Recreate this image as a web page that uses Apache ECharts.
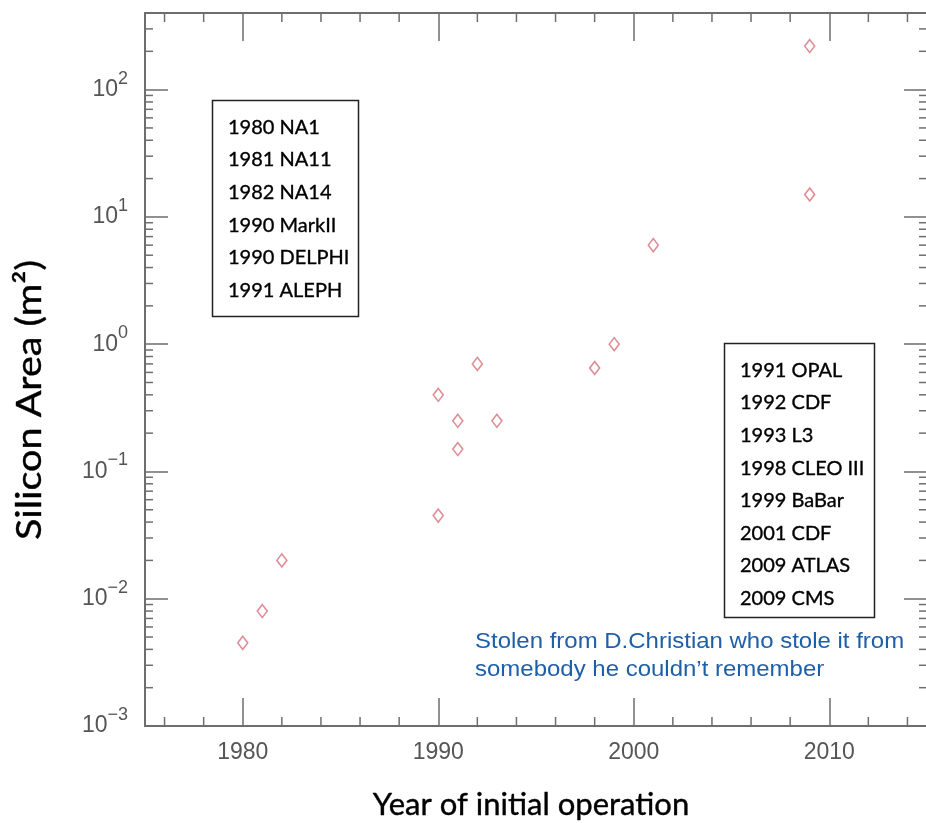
<!DOCTYPE html>
<html><head><meta charset="utf-8">
<script src="https://cdn.jsdelivr.net/npm/echarts@6/dist/echarts.min.js"></script>
<style>html,body{margin:0;padding:0;background:#fff}#c{width:926px;height:823px}</style>
</head><body><div id="c"></div><script>
// ---- data ----
const years = [1980, 1981, 1982, 1990, 1990, 1991, 1991, 1992, 1993, 1998, 1999, 2001, 2009, 2009];
const areas = [0.0045, 0.008, 0.02, 0.4, 0.045, 0.25, 0.15, 0.7, 0.25, 0.65, 1.0, 6.0, 15, 220];
const leftBoxLabels = ['1980 NA1', '1981 NA11', '1982 NA14', '1990 MarkII', '1990 DELPHI', '1991 ALEPH'];
const rightBoxLabels = ['1991 OPAL', '1992 CDF', '1993 L3', '1998 CLEO III', '1999 BaBar', '2001 CDF', '2009 ATLAS', '2009 CMS'];
const noteLines = ['Stolen from D.Christian who stole it from', 'somebody he couldn\u2019t remember'];
const xTitle = 'Year of initial operation';
const yTitle = 'Silicon Area (m\u00B2)';
const xMin = 1975, xMax = 2015, yMin = 0.001, yMax = 400;

// minor tick positions
const xMinorTicks = [];
for (let yr = 1976; yr < xMax; yr += 2) if (yr % 10 !== 0) xMinorTicks.push(yr);
const yMinorTicks = [];
for (let e = -3; e <= 2; e++) for (let k = 2; k <= 9; k++) { const v = k * Math.pow(10, e); if (v < yMax) yMinorTicks.push(v); }

const axisColor = '#6e6e6e';
const labelColor = '#555';
const markColor = '#d6727a';

const chart = echarts.init(document.getElementById('c'));
const yLabelFmt = v => {
  const e = Math.log10(v), r = Math.round(e);
  if (Math.abs(e - r) > 1e-6) return '';
  return '{b|10}{s|' + (r < 0 ? '\u2212' + (-r) : r) + '}';
};
const boxTextStyle = { font: '20px Lato', lineHeight: 32.6, fill: '#000', stroke: '#000', lineWidth: 0.35,
  align: 'left', verticalAlign: 'top' };
chart.setOption({
  animation: false,
  backgroundColor: '#fff',
  grid: { left: 145, right: -1, top: 13, bottom: 97, containLabel: false, outerBoundsMode: 'none' },
  xAxis: [{
    type: 'value', min: xMin, max: xMax, splitNumber: 4, position: 'bottom',
    axisLine: { lineStyle: { color: axisColor, width: 2 } },
    axisTick: { inside: true, length: 28, lineStyle: { color: axisColor, width: 1.5 } },
    splitLine: { show: false },
    axisLabel: { margin: 15, color: labelColor, fontSize: 23, fontFamily: 'Liberation Sans',
      formatter: v => (Math.round(v) % 10 === 0 ? String(Math.round(v)) : '') }
  }, {
    type: 'value', min: xMin, max: xMax, splitNumber: 4, position: 'top',
    axisLine: { lineStyle: { color: axisColor, width: 2 } },
    axisTick: { inside: true, length: 28, lineStyle: { color: axisColor, width: 1.5 } },
    splitLine: { show: false }, axisLabel: { show: false }
  }],
  yAxis: [{
    type: 'log', logBase: 10, min: yMin, max: yMax, position: 'left',
    axisLine: { lineStyle: { color: axisColor, width: 2 } },
    axisTick: { inside: true, length: 23, lineStyle: { color: axisColor, width: 1.5 } },
    splitLine: { show: false },
    axisLabel: { margin: 17, formatter: yLabelFmt,
      rich: {
        b: { fontSize: 23, lineHeight: 40, fontFamily: 'Liberation Sans', color: labelColor },
        s: { fontSize: 18, lineHeight: 16, verticalAlign: 'top', fontFamily: 'Liberation Sans', color: labelColor }
      } }
  }, {
    type: 'log', logBase: 10, min: yMin, max: yMax, position: 'right',
    axisLine: { lineStyle: { color: axisColor, width: 2 } },
    axisTick: { inside: true, length: 23, lineStyle: { color: axisColor, width: 1.5 } },
    splitLine: { show: false }, axisLabel: { show: false }
  }],
  series: [{
    type: 'custom', silent: true, z: 3, xAxisIndex: 0, yAxisIndex: 0,
    data: yMinorTicks.map(v => [xMin, v]), encode: { x: 0, y: 1 },
    renderItem: (params, api) => {
      const cs = params.coordSys;
      const y = api.coord([xMin, api.value(1)])[1];
      const st = { stroke: axisColor, lineWidth: 1.5 };
      return { type: 'group', children: [
        { type: 'line', shape: { x1: cs.x, y1: y, x2: cs.x + 8, y2: y }, style: st },
        { type: 'line', shape: { x1: cs.x + cs.width, y1: y, x2: cs.x + cs.width - 8, y2: y }, style: st }
      ] };
    }
  }, {
    type: 'custom', silent: true, z: 3, xAxisIndex: 0, yAxisIndex: 0,
    data: xMinorTicks.map(v => [v, yMin]), encode: { x: 0, y: 1 },
    renderItem: (params, api) => {
      const cs = params.coordSys;
      const x = api.coord([api.value(0), yMin])[0];
      const st = { stroke: axisColor, lineWidth: 1.5 };
      return { type: 'group', children: [
        { type: 'line', shape: { x1: x, y1: cs.y + cs.height, x2: x, y2: cs.y + cs.height - 9 }, style: st },
        { type: 'line', shape: { x1: x, y1: cs.y, x2: x, y2: cs.y + 9 }, style: st }
      ] };
    }
  }, {
    type: 'scatter', xAxisIndex: 0, yAxisIndex: 0, z: 4,
    symbol: 'diamond', symbolSize: [10, 13],
    itemStyle: { color: '#fff', borderColor: markColor, borderWidth: 1.6 },
    data: years.map((y, i) => [y, areas[i]])
  }],
  graphic: [
    { type: 'rect', z: 10, shape: { x: 212.5, y: 100.5, width: 146, height: 216 },
      style: { fill: '#fff', stroke: '#222', lineWidth: 1.5 } },
    { type: 'text', z: 11, x: 228, y: 111, style: Object.assign({ text: leftBoxLabels.join('\n') }, boxTextStyle) },
    { type: 'rect', z: 10, shape: { x: 724.5, y: 343.5, width: 150, height: 274 },
      style: { fill: '#fff', stroke: '#222', lineWidth: 1.5 } },
    { type: 'text', z: 11, x: 740, y: 354, style: Object.assign({ text: rightBoxLabels.join('\n') }, boxTextStyle) },
    { type: 'text', z: 11, x: 475, y: 628, scaleX: 1.09, style: { text: noteLines.join('\n'), font: '22px "Liberation Sans"',
      lineHeight: 28, fill: '#1f5fa8', align: 'left', verticalAlign: 'top' } },
    { type: 'text', z: 11, x: 531, y: 805, style: { text: xTitle, font: '31px Lato', fill: '#000', stroke: '#000', lineWidth: 0.4,
      align: 'center', verticalAlign: 'middle' } },
    { type: 'text', z: 11, x: 30, y: 400, rotation: Math.PI / 2, scaleX: 1.13, style: { text: yTitle, font: '35px Lato', fill: '#000',
      stroke: '#000', lineWidth: 0.4, align: 'center', verticalAlign: 'middle' } }
  ]
});
</script></body></html>
